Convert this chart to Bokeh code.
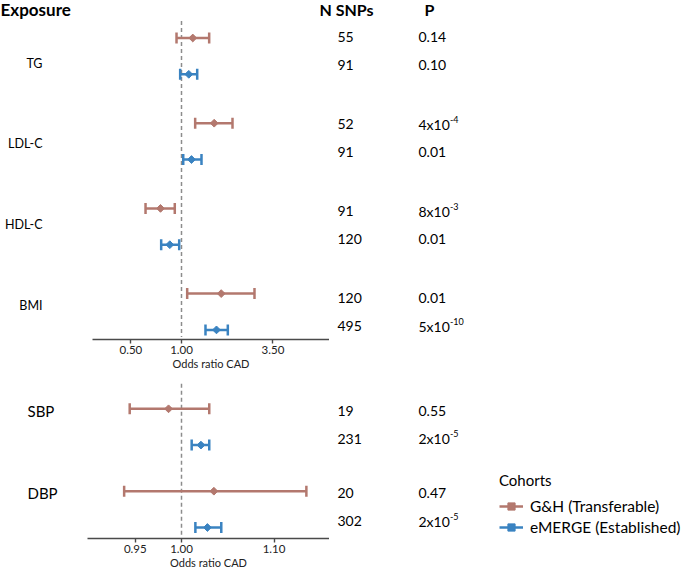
import numpy as np
from bokeh.plotting import figure
from bokeh.models import (Range1d, FixedTicker, PrintfTickFormatter, ColumnDataSource,
                          Legend, LegendItem, LinearScale, Spacer)
from bokeh.layouts import column, row
from bokeh.embed import file_html
from bokeh.resources import INLINE
from bokeh.core.properties import value

# ---------------- data ----------------
cohorts = ["G&H (Transferable)", "eMERGE (Established)"]
NULL_OR = 1.0
x_title = "Odds ratio CAD"

# upper panel (log odds-ratio axis)
lipid_exposures = ["TG", "LDL-C", "HDL-C", "BMI"]
lipid_gh_or = [1.167, 1.565, 0.750, 1.723]
lipid_gh_lo = [0.934, 1.206, 0.611, 1.081]
lipid_gh_hi = [1.461, 2.011, 0.912, 2.718]
lipid_em_or = [1.105, 1.147, 0.852, 1.615]
lipid_em_lo = [0.982, 1.024, 0.757, 1.389]
lipid_em_hi = [1.240, 1.315, 0.969, 1.886]
lipid_gh_nsnps = ["55", "52", "91", "120"]
lipid_em_nsnps = ["91", "91", "120", "495"]
lipid_gh_p = ["0.14", "4x10", "8x10", "0.01"]
lipid_gh_p_exp = ["", "-4", "-3", ""]
lipid_em_p = ["0.10", "0.01", "0.01", "5x10"]
lipid_em_p_exp = ["", "", "", "-10"]
lipid_ticks = [0.50, 1.00, 3.50]

# lower panel (linear odds-ratio axis)
bp_exposures = ["SBP", "DBP"]
bp_gh_or = [0.986, 1.035]
bp_gh_lo = [0.944, 0.938]
bp_gh_hi = [1.030, 1.135]
bp_em_or = [1.021, 1.028]
bp_em_lo = [1.011, 1.015]
bp_em_hi = [1.030, 1.043]
bp_gh_nsnps = ["19", "20"]
bp_em_nsnps = ["231", "302"]
bp_gh_p = ["0.55", "0.47"]
bp_gh_p_exp = ["", ""]
bp_em_p = ["2x10", "2x10"]
bp_em_p_exp = ["-5", "-5"]
bp_ticks = [0.95, 1.00, 1.10]

# ---------------- layout / style ----------------
FONT = "Lato"
GH_COLOR = "#b3786e"
EM_COLOR = "#3a83c1"
AXIS_COLOR = "#4a4a4a"
W = 685
PX_ONE = 181                      # where OR = 1 sits
LOG_PX = 73.0                     # px per ln(OR) unit, upper panel
LIN_PX = 925.0                    # px per OR unit, lower panel
COL_NSNP = 337
COL_P = 418
COL_PEXP = 449.5
PAIR_GAP = 36.3
TXT_HALF = 14

TOP_MAIN_H = 337                  # canvas rows 0..337
TOP_AXIS_H = 37                   # canvas rows 337..374
TOP_AXIS_X = (92, 329)
TOP_FIRST = 37.5                  # first bar row
TOP_STEP = 85.2
TOP_LABEL_FIRST = 62.5            # exposure names
TOP_LABEL_STEP = 80.8
TOP_TEXT_FIRST = 50.5             # centre of first N SNPs / P pair
TOP_TEXT_STEP = 87.0

BOT_TOP = TOP_MAIN_H + TOP_AXIS_H
BOT_MAIN_H = 162                  # canvas rows 374..536
BOT_AXIS_H = 571 - BOT_TOP - BOT_MAIN_H
BOT_AXIS_X = (87, 329)
BOT_FIRST = 408.3
BOT_STEP = 82.4


def log_px(px):
    return NULL_OR * np.exp((px - PX_ONE) / LOG_PX)


def lin_px(px):
    return NULL_OR + (px - PX_ONE) / LIN_PX


def main_fig(height, y_top, x_axis_type, to_data):
    p = figure(width=W, height=height, x_axis_type=x_axis_type,
               x_range=Range1d(to_data(0), to_data(W)),
               y_range=Range1d(y_top + height, y_top),
               x_axis_location=None, y_axis_location=None, toolbar_location=None,
               output_backend="svg", min_border=0)
    p.outline_line_color = None
    p.grid.visible = False
    p.background_fill_color = "white"
    p.border_fill_color = "white"
    p.extra_x_ranges = {"px": Range1d(0, W)}
    p.extra_x_scales = {"px": LinearScale()}
    return p


def axis_strip(height, x_axis_type, to_data, px0, px1, ticks):
    p = figure(width=px1 - px0, height=height, x_axis_type=x_axis_type,
               x_range=Range1d(to_data(px0), to_data(px1)), y_range=Range1d(0, 1),
               y_axis_location=None, toolbar_location=None, output_backend="svg",
               min_border=0, min_border_bottom=height - 2)
    p.outline_line_color = None
    p.grid.visible = False
    p.background_fill_color = "white"
    p.border_fill_color = "white"
    ax = p.xaxis[0]
    ax.ticker = FixedTicker(ticks=ticks)
    ax.formatter = PrintfTickFormatter(format="%.2f")
    ax.axis_label = x_title
    ax.axis_label_text_font = FONT
    ax.axis_label_text_font_style = "normal"
    ax.axis_label_text_font_size = "11px"
    ax.axis_label_text_color = "#222222"
    ax.axis_label_standoff = 0
    ax.major_label_text_font = FONT
    ax.major_label_text_font_size = "11.5px"
    ax.major_label_text_color = "#222222"
    ax.major_label_standoff = 2
    ax.major_tick_in = 0
    ax.major_tick_out = 4
    ax.minor_tick_line_color = None
    ax.axis_line_color = AXIS_COLOR
    ax.axis_line_width = 1.4
    ax.major_tick_line_color = AXIS_COLOR
    ax.major_tick_line_width = 1.4
    return row(Spacer(width=px0, height=height), p, Spacer(width=W - px1, height=height))


def draw_series(p, ys, est, lo, hi, color):
    src = ColumnDataSource(dict(y=ys, est=est, lo=lo, hi=hi))
    seg = p.segment(x0="lo", x1="hi", y0="y", y1="y", source=src,
                    line_color=color, line_width=2.5)
    for col in ("lo", "hi"):
        p.scatter(x=col, y="y", source=src, marker="dash", angle=np.pi / 2,
                  size=11, line_color=color, line_width=2.5)
    pt = p.scatter(x="est", y="y", source=src, marker="square", angle=np.pi / 4,
                   size=5.5, fill_color=color, line_color=color, line_width=1)
    return seg, pt


def txt(p, xs, ys, texts, size="14px", style="normal", align="left"):
    p.text(x=xs, y=ys, text=texts, x_range_name="px", text_font=value(FONT),
           text_font_size=size, text_font_style=style, text_align=align,
           text_baseline="middle", text_color="black")


def draw_columns(p, centers, gh_n, em_n, gh_p, gh_e, em_p, em_e):
    y_gh = [c - TXT_HALF for c in centers]
    y_em = [c + TXT_HALF for c in centers]
    n = len(centers)
    txt(p, [COL_NSNP] * n, y_gh, gh_n)
    txt(p, [COL_NSNP] * n, y_em, em_n)
    txt(p, [COL_P] * n, y_gh, gh_p)
    txt(p, [COL_P] * n, y_em, em_p)
    txt(p, [COL_PEXP] * n, [y - 5 for y in y_gh], gh_e, size="9px")
    txt(p, [COL_PEXP] * n, [y - 5 for y in y_em], em_e, size="9px")


# ---------------- upper panel ----------------
top = main_fig(TOP_MAIN_H, 0, "log", log_px)
n_top = len(lipid_exposures)
top_gh_y = [TOP_FIRST + i * TOP_STEP for i in range(n_top)]
top_em_y = [y + PAIR_GAP for y in top_gh_y]
top_label_y = [TOP_LABEL_FIRST + i * TOP_LABEL_STEP for i in range(n_top)]
top_text_c = [TOP_TEXT_FIRST + i * TOP_TEXT_STEP for i in range(n_top)]

top.segment(x0=[NULL_OR], x1=[NULL_OR], y0=[TOP_FIRST - 17], y1=[TOP_MAIN_H + 2],
            line_color="#8c8c8c", line_width=1.5, line_dash="4 3")
draw_series(top, top_gh_y, lipid_gh_or, lipid_gh_lo, lipid_gh_hi, GH_COLOR)
draw_series(top, top_em_y, lipid_em_or, lipid_em_lo, lipid_em_hi, EM_COLOR)

txt(top, [0], [9], ["Exposure"], size="17px", style="bold")
txt(top, [319], [9], ["N SNPs"], size="16px", style="bold")
txt(top, [424], [9], ["P"], size="16px", style="bold")
txt(top, [42] * n_top, top_label_y, lipid_exposures, size="12.5px", align="right")
draw_columns(top, top_text_c, lipid_gh_nsnps, lipid_em_nsnps,
             lipid_gh_p, lipid_gh_p_exp, lipid_em_p, lipid_em_p_exp)

top_axis = axis_strip(TOP_AXIS_H, "log", log_px, TOP_AXIS_X[0], TOP_AXIS_X[1], lipid_ticks)

# ---------------- lower panel ----------------
bot = main_fig(BOT_MAIN_H, BOT_TOP, "linear", lin_px)
n_bot = len(bp_exposures)
bot_gh_y = [BOT_FIRST + i * BOT_STEP for i in range(n_bot)]
bot_em_y = [y + PAIR_GAP for y in bot_gh_y]
bot_centers = [y + PAIR_GAP / 2 - 2 for y in bot_gh_y]

bot.segment(x0=[NULL_OR], x1=[NULL_OR], y0=[BOT_FIRST - 25], y1=[BOT_TOP + BOT_MAIN_H + 2],
            line_color="#8c8c8c", line_width=1.5, line_dash="4 3")
seg_gh, pt_gh = draw_series(bot, bot_gh_y, bp_gh_or, bp_gh_lo, bp_gh_hi, GH_COLOR)
seg_em, pt_em = draw_series(bot, bot_em_y, bp_em_or, bp_em_lo, bp_em_hi, EM_COLOR)

txt(bot, [27] * n_bot, [y + 2 for y in bot_gh_y], bp_exposures, size="15px")
draw_columns(bot, bot_centers, bp_gh_nsnps, bp_em_nsnps,
             bp_gh_p, bp_gh_p_exp, bp_em_p, bp_em_p_exp)

legend = Legend(items=[LegendItem(label=cohorts[0], renderers=[seg_gh, pt_gh]),
                       LegendItem(label=cohorts[1], renderers=[seg_em, pt_em])],
                location=(499, 0), title="Cohorts",
                title_text_font=FONT, title_text_font_size="15px",
                title_text_font_style="normal", title_text_color="black",
                title_standoff=8,
                label_text_font=FONT, label_text_font_size="15.5px", label_text_color="black",
                glyph_width=24, glyph_height=18, label_height=18, label_standoff=7,
                spacing=3, padding=0, margin=0, border_line_color=None,
                background_fill_alpha=0)
bot.add_layout(legend)

bot_axis = axis_strip(BOT_AXIS_H, "linear", lin_px, BOT_AXIS_X[0], BOT_AXIS_X[1], bp_ticks)

layout = column(top, top_axis, bot, bot_axis)
open("out.html", "w").write(file_html(layout, INLINE))
